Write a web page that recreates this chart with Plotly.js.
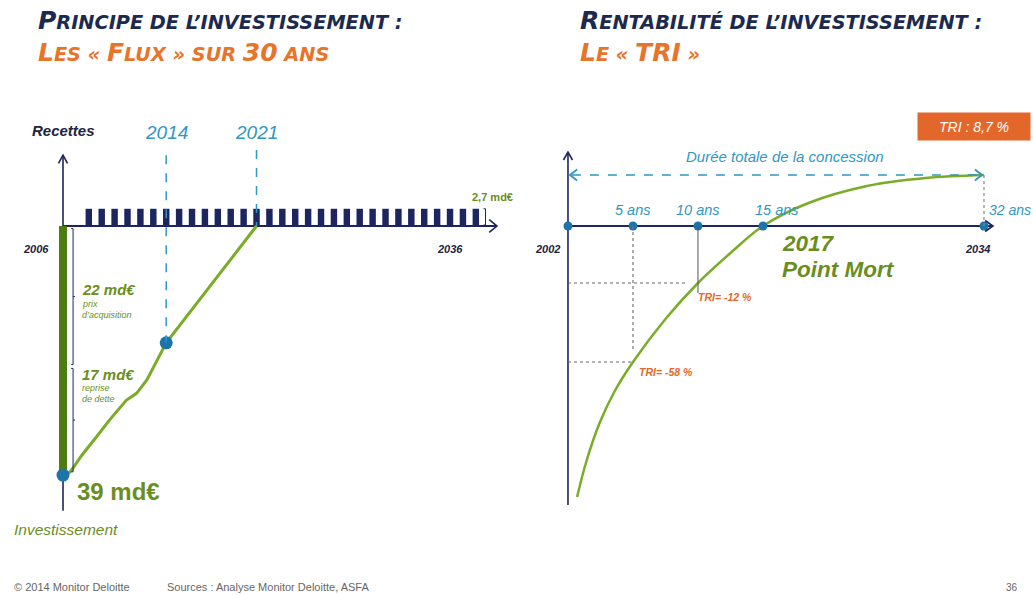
<!DOCTYPE html>
<html>
<head>
<meta charset="utf-8">
<script src="https://cdn.plot.ly/plotly-3.0.1.min.js"></script>
<style>html,body{margin:0;padding:0;background:#fff;}#chart{width:1033px;height:595px;}</style>
</head>
<body>
<div id="chart"></div>
<script>
// ---------- DATA (left: flux over the concession, md€) ----------
const fluxYears = [2008,2009,2010,2011,2012,2013,2014,2015,2016,2017,2018,2019,2020,2021,2022,2023,2024,2025,2026,2027,2028,2029,2030,2031,2032,2033,2034,2035,2036,2037,2038];
const fluxValues = fluxYears.map(() => 2.7);           // annual receipts, 2,7 md€
const investYear = [2006];
const investValue = [-39];                              // 39 md€ = 22 + 17
const acquisitionPrice = 22;
const debtTakeover = 17;
const cumulYears = [2006, 2006.5, 2006.77, 2007.46, 2008.6, 2009.6, 2010.9, 2011.7, 2012.5, 2014, 2021];
const cumulValues = [-39, -38.6, -37.9, -35.9, -33.0, -30.4, -27.3, -26.2, -24.1, -18.3, 0];
const keyYears = [2014, 2021];
const keyYearValues = [-18.3, 0];
const leftStart = 2006, leftEnd = 2036;

// ---------- DATA (right: TRI curve) ----------
const triCurveYears = [2002.7, 2003.4, 2004.4, 2005.6, 2007, 2009.5, 2012, 2014.5, 2017, 2020.5, 2025, 2029.5, 2034];
const triCurveValues = [-27.1, -23.6, -19.8, -16.5, -13.6, -9.3, -5.7, -2.7, 0, 2.3, 4.0, 4.8, 5.1];
const milestoneYears = [2002, 2007, 2012, 2017, 2034];
const milestoneLabels = ['', '5 ans', '10 ans', '15 ans', '32 ans'];
const guideYears = [2007, 2012];
const guideLevels = [-13.6, -5.7];
const guideTRI = ['TRI= -58 %', 'TRI= -12 %'];
const finalTRI = 'TRI : 8,7 %';
const breakEvenYear = 2017;

// ---------- STYLE ----------
const NAVY = '#1d2560', GREEN_DARK = '#4d7c12', GREEN = '#7aac28', GREEN_TXT = '#6a8e1e',
      TEAL = '#2f97c1', DOT = '#1c74a8', ORANGE = '#e3672a', FONT = 'Liberation Sans, Arial, sans-serif',
      TFONT = 'DejaVu Sans, Liberation Sans, sans-serif';

const traces = [
  {type:'bar', x: fluxYears, y: fluxValues, width: 0.5, marker:{color: NAVY}, xaxis:'x', yaxis:'y', hoverinfo:'skip'},
  {type:'bar', x: investYear, y: investValue, width: 0.62, marker:{color: GREEN_DARK}, xaxis:'x', yaxis:'y', hoverinfo:'skip'},
  {type:'scatter', mode:'lines', x: cumulYears, y: cumulValues, line:{color: GREEN, width: 3}, xaxis:'x', yaxis:'y'},
  {type:'scatter', mode:'markers', x: [investYear[0], keyYears[0]], y: [investValue[0], keyYearValues[0]], marker:{color: DOT, size: 13}, xaxis:'x', yaxis:'y'},
  {type:'scatter', mode:'lines', x: triCurveYears, y: triCurveValues, line:{color: GREEN, width: 2.5, shape:'spline', smoothing: 1}, xaxis:'x2', yaxis:'y2'},
  {type:'scatter', mode:'markers', x: milestoneYears, y: milestoneYears.map(()=>0), marker:{color: DOT, size: 9}, xaxis:'x2', yaxis:'y2'}
];

// axis extents
const lTop = 11.1, lBottom = -44.6, lRight = 2039.64;
const rTop = 7.4, rBottom = -27.9, rRight = 2034.69;
const spanTop = 5.1;

const shapes = [];
function L(xr, yr, x0, y0, x1, y1, color, width, dash, layer) {
  shapes.push({type:'line', xref:xr, yref:yr, x0, y0, x1, y1, line:{color, width, dash: dash || 'solid'}, layer: layer || 'above'});
}
function P(xr, yr, path, color, width, layer) {
  shapes.push({type:'path', xref:xr, yref:yr, path, line:{color, width}, layer: layer || 'above'});
}
// Left axes
L('x','y', leftStart, lBottom, leftStart, lTop, NAVY, 1.6, null, 'below');
P('x','y', `M ${leftStart-0.35},${lTop-1.3} L ${leftStart},${lTop} L ${leftStart+0.35},${lTop-1.3}`, NAVY, 1.6);
L('x','y', leftStart, 0, lRight, 0, NAVY, 2, null, 'below');
P('x','y', `M ${lRight-0.6},1.0 L ${lRight},0 L ${lRight-0.6},-1.0`, NAVY, 1.6);
// key year dashed lines
L('x','y', keyYears[0], 11.1, keyYears[0], keyYearValues[0], TEAL, 1.5, 'dash');
L('x','y', keyYears[1], 11.9, keyYears[1], keyYearValues[1], TEAL, 1.5, 'dash');
// brackets 22 / 17
const bx = 2006.78;
const b1a = -0.4, b1b = -acquisitionPrice + 0.3, b2a = -acquisitionPrice - 0.3, b2b = -(acquisitionPrice + debtTakeover) + 0.5;
P('x','y', `M ${bx-0.15},${b1a} L ${bx},${b1a} L ${bx},${b1b} L ${bx-0.15},${b1b} M ${bx},${(b1a+b1b)/2} L ${bx+0.15},${(b1a+b1b)/2}`, NAVY, 1);
P('x','y', `M ${bx-0.15},${b2a} L ${bx},${b2a} L ${bx},${b2b} L ${bx-0.15},${b2b} M ${bx},${(b2a+b2b)/2} L ${bx+0.15},${(b2a+b2b)/2}`, NAVY, 1);
// 2,7 bracket
const bx2 = fluxYears[fluxYears.length-1] + 0.6;
P('x','y', `M ${bx2},${fluxValues[0]} L ${bx2+0.15},${fluxValues[0]} L ${bx2+0.15},0.15 L ${bx2},0.15`, NAVY, 1);

// Right axes
L('x2','y2', 2002, rBottom, 2002, rTop, NAVY, 1.6, null, 'below');
P('x2','y2', `M ${2002-0.35},${rTop-0.8} L 2002,${rTop} L ${2002+0.35},${rTop-0.8}`, NAVY, 1.6);
L('x2','y2', 2002, 0, rRight, 0, NAVY, 2, null, 'below');
P('x2','y2', `M ${rRight-0.6},0.55 L ${rRight},0 L ${rRight-0.6},-0.55`, NAVY, 1.6);
// concession span arrow
L('x2','y2', 2002.3, spanTop, 2033.7, spanTop, TEAL, 1.6, 'dash');
P('x2','y2', `M ${2002+0.7},${spanTop+0.55} L 2002.15,${spanTop} L ${2002+0.7},${spanTop-0.55}`, TEAL, 1.8);
P('x2','y2', `M ${2034-0.7},${spanTop+0.55} L 2033.85,${spanTop} L ${2034-0.7},${spanTop-0.55}`, TEAL, 1.8);
L('x2','y2', 2034, spanTop, 2034, 0, '#888', 1.2, 'dot');
// TRI guide lines
L('x2','y2', guideYears[0], 0, guideYears[0], guideLevels[0]+1.2, '#777', 1.2, 'dot');
L('x2','y2', 2002, guideLevels[0], guideYears[0], guideLevels[0], '#666', 1, 'dot');
L('x2','y2', guideYears[1], 0, guideYears[1], guideLevels[1]-1.0, '#555', 1, 'solid');
L('x2','y2', 2002, guideLevels[1], guideYears[1]-0.9, guideLevels[1], '#666', 1, 'dot');

const ann = [];
function T(xr, yr, x, y, text, size, color, opts) {
  const o = opts || {};
  ann.push(Object.assign({xref:xr, yref:yr, x, y, text, showarrow:false, font:{family: o.family || FONT, size, color}, xanchor:'center', yanchor:'middle'}, o));
}
// Titles (small caps imitation)
const sc = (big, small) => `<span style="font-size:25px">${big}</span>${small}`;
const tOpt = {xanchor:'left', family: TFONT};
T('paper','paper', 36/1033, 1-21/595, `<b><i>${sc('P','RINCIPE DE L’INVESTISSEMENT :')}</i></b>`, 19.3, '#1b2a4e', tOpt);
T('paper','paper', 36/1033, 1-52/595, `<b><i>${sc('L','ES « ')}${sc('F','LUX » SUR ')}${sc('30',' ANS')}</i></b>`, 19.3, '#e8742a', tOpt);
T('paper','paper', 578/1033, 1-21/595, `<b><i>${sc('R','ENTABILITÉ DE L’INVESTISSEMENT :')}</i></b>`, 19.3, '#1b2a4e', tOpt);
T('paper','paper', 578/1033, 1-52/595, `<b><i>${sc('L','E « ')}${sc('TRI',' »')}</i></b>`, 19.3, '#e8742a', tOpt);

// Left texts
T('x','y', leftStart, 14.9, '<b><i>Recettes</i></b>', 15, '#1d2340');
T('x','y', keyYears[0], 14.6, '<i>2014</i>', 19, TEAL);
T('x','y', keyYears[1], 14.6, '<i>2021</i>', 19, TEAL);
T('x','y', leftStart, -3.6, '<b><i>2006</i></b>', 11, '#1d2340', {xanchor:'right', xshift:-12});
T('x','y', leftEnd, -3.6, '<b><i>2036</i></b>', 11, '#1d2340');
T('x','y', bx2 - 0.6, 4.6, '<b>2,7 md€</b>', 11, GREEN_TXT, {xanchor:'left', xshift:-6});
T('x','y', 2007.32, -10.0, `<b><i>${acquisitionPrice} md€</i></b>`, 15, GREEN_TXT, {xanchor:'left'});
T('x','y', 2007.32, -12.2, '<i>prix</i>', 9, GREEN_TXT, {xanchor:'left'});
T('x','y', 2007.32, -14.0, '<i>d’acquisition</i>', 9, GREEN_TXT, {xanchor:'left'});
T('x','y', 2007.32, -23.2, `<b><i>${debtTakeover} md€</i></b>`, 15, GREEN_TXT, {xanchor:'left'});
T('x','y', 2007.32, -25.3, '<i>reprise</i>', 9, GREEN_TXT, {xanchor:'left'});
T('x','y', 2007.32, -27.1, '<i>de dette</i>', 9, GREEN_TXT, {xanchor:'left'});
T('x','y', 2006.9, -41.6, `<b>${-investValue[0]} md€</b>`, 24, GREEN_TXT, {xanchor:'left'});
T('x','y', 2002.05, -47.6, '<i>Investissement</i>', 15.5, GREEN_TXT, {xanchor:'left'});

// Right texts
milestoneYears.forEach((yr, i) => {
  if (!milestoneLabels[i]) return;
  if (i === milestoneYears.length - 1) T('x2','y2', yr, 1.6, `<i>${milestoneLabels[i]}</i>`, 14, TEAL, {xanchor:'left', xshift:3});
  else T('x2','y2', yr, 1.6, `<i>${milestoneLabels[i]}</i>`, 14.5, TEAL, {xshift: i === 3 ? 14 : 0});
});
T('x2','y2', 2002, -2.3, '<b><i>2002</i></b>', 11, '#1d2340', {xanchor:'right', xshift:-6});
T('x2','y2', 2034, -2.3, '<b><i>2034</i></b>', 11, '#1d2340', {xshift:-6});
T('x2','y2', breakEvenYear, -1.7, `<b><i>${breakEvenYear}</i></b>`, 22.5, GREEN_TXT, {xanchor:'left', xshift:17});
T('x2','y2', breakEvenYear, -4.3, '<b><i>Point Mort</i></b>', 22.5, GREEN_TXT, {xanchor:'left', xshift:17});
T('x2','y2', guideYears[1], -7.1, `<b><i>${guideTRI[1]}</i></b>`, 10.5, ORANGE, {xanchor:'left', xshift:-2});
T('x2','y2', guideYears[0], -14.6, `<b><i>${guideTRI[0]}</i></b>`, 10.5, ORANGE, {xanchor:'left', xshift:4});
T('x2','y2', 2018.7, 7.0, '<i>Durée totale de la concession</i>', 15, TEAL);
T('paper','paper', 974/1033, 1-126/595, `<i>${finalTRI}</i>`, 14, '#ffffff', {bgcolor: ORANGE, borderpad: 5, width: 102, height: 17});

// Footer
T('paper','paper', 12/1033, 1-587/595, '© 2014 Monitor Deloitte', 11, '#666', {xanchor:'left'});
T('paper','paper', 165/1033, 1-587/595, 'Sources : Analyse Monitor Deloitte, ASFA', 11, '#666', {xanchor:'left'});
T('paper','paper', 1012/1033, 1-587/595, '36', 10, '#666');

const ax = (range, extra) => Object.assign({range, domain:[0,1], visible:false, showgrid:false, zeroline:false, fixedrange:true}, extra || {});
const layout = {
  width: 1033, height: 595,
  margin: {l:0, r:0, t:0, b:0, pad:0},
  paper_bgcolor: '#ffffff', plot_bgcolor: 'rgba(0,0,0,0)',
  showlegend: false, barmode: 'overlay',
  xaxis: ax([2001.116, 2081.19], {anchor:'y'}),
  yaxis: ax([-57.79, 35.40], {anchor:'x'}),
  xaxis2: ax([1958.31, 2037.77], {anchor:'y2', overlaying:'x'}),
  yaxis2: ax([-36.9, 22.6], {anchor:'x2', overlaying:'y'}),
  shapes, annotations: ann,
  font: {family: FONT}
};
Plotly.newPlot('chart', traces, layout, {staticPlot: true, displayModeBar: false});
</script>
</body>
</html>
